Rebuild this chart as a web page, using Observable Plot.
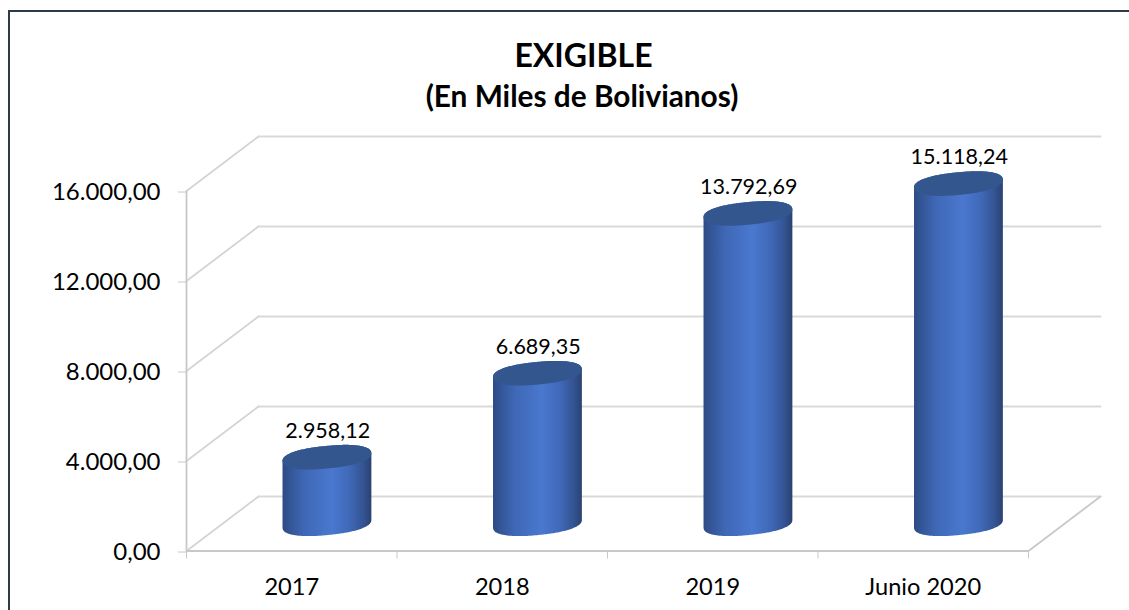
<!DOCTYPE html>
<html>
<head>
<meta charset="utf-8">
<script src="https://cdn.jsdelivr.net/npm/d3@7"></script>
<script src="https://cdn.jsdelivr.net/npm/@observablehq/plot@0.6"></script>
<style>
html,body{margin:0;padding:0;background:#fff;overflow:hidden;}
#page{position:relative;width:1129px;height:610px;overflow:hidden;font-family:Lato,sans-serif;}
#frame{position:absolute;left:8px;top:10px;width:1130px;height:610px;border-left:2.5px solid #2f3b4c;border-top:2.5px solid #2f3b4c;}
#chart{position:absolute;left:0;top:0;}
#t1,#t2{position:absolute;left:0;width:1164px;text-align:center;font-weight:700;color:#000;white-space:nowrap;}
#t1{top:36px;font-size:32px;line-height:38px;width:1167px;}
#t2{top:79px;font-size:29.8px;line-height:34px;}
</style>
</head>
<body>
<div id="page">
  <div id="frame"></div>
  <div id="chart"></div>
  <div id="t1">EXIGIBLE</div>
  <div id="t2">(En Miles de Bolivianos)</div>
</div>
<script>
const title = "EXIGIBLE";
const subtitle = "(En Miles de Bolivianos)";
const categories = ["2017", "2018", "2019", "Junio 2020"];
const values = [2958.12, 6689.35, 13792.69, 15118.24];
const yTicks = [0, 4000, 8000, 12000, 16000];

// Spanish number format: 15.118,24
const fmt = d3.formatLocale({decimal: ",", thousands: ".", grouping: [3], currency: ["", ""]}).format(",.2f");

// Pseudo-3D projection expressed in data units, so everything passes through the scales.
const depthX = 0.342;   // floor depth along x (fraction of one category)
const depthY = 2422;    // floor depth along y (value units)
const pxX = 1 / 210.5;  // data units per pixel
const pxY = 16000 / 360;
const project = (x, v, d) => ({x: x + d * depthX, y: v + d * depthY});

// Back wall and side wall grid
const backGrid = yTicks.map(v => [project(0, v, 1), project(4, v, 1)]).flat().map((p, i) => ({...p, k: Math.floor(i / 2)}));
const sideGrid = yTicks.map(v => [project(0, v, 0), project(0, v, 1)]).flat().map((p, i) => ({...p, k: Math.floor(i / 2)}));
const floorEdge = [project(4, 0, 0), project(4, 0, 1)];

// Rounded, tilted cylinder cap (pixel offsets converted to data units)
const a = 44.6, b = 11.3, th = -5.5 * Math.PI / 180, pow = 2 / 2.3;
const spow = v => Math.sign(v) * Math.pow(Math.abs(v), pow);
function capOffset(t) {
  const u = a * spow(Math.cos(t)), w = b * spow(Math.sin(t));
  return {ex: u * Math.cos(th) - w * Math.sin(th), ey: u * Math.sin(th) + w * Math.cos(th)};
}
const capPoint = (c, t) => {
  const {ex, ey} = capOffset(t);
  return {x: c.x - 0.8 * pxX + ex * pxX, y: c.y - ey * pxY};
};
const turns = d3.range(0, 241).map(i => i / 240 * 2 * Math.PI);
const tR = d3.greatest(turns, t => capOffset(t).ex);
const tL = d3.least(turns, t => capOffset(t).ex);
const lowerArc = turns.filter(t => t >= tR && t <= tL);
const upperArc = turns.filter(t => t >= tL).concat(turns.filter(t => t <= tR));

const bodies = [], tops = [], labels = [];
categories.forEach((cat, i) => {
  const base = project(i + 0.5, 0, 0.5);
  const top = project(i + 0.5, values[i], 0.5);
  lowerArc.forEach(t => bodies.push({cat, ...capPoint(base, t)}));
  upperArc.forEach(t => bodies.push({cat, ...capPoint(top, t)}));
  turns.forEach(t => tops.push({cat, ...capPoint(top, t)}));
  labels.push({...top, text: fmt(values[i])});
});

const defs = d3.create("svg:defs");
const grad = defs.append("linearGradient").attr("id", "cyl").attr("x1", 0).attr("x2", 1).attr("y1", 0).attr("y2", 0);
[[0, "#2c4a84"], [0.08, "#335596"], [0.25, "#3f68b6"], [0.55, "#4a78cf"], [0.75, "#4069b8"], [0.9, "#345595"], [1, "#2a4272"]]
  .forEach(([o, c]) => grad.append("stop").attr("offset", o).attr("stop-color", c));

const chart = Plot.plot({
  width: 1129,
  height: 610,
  marginLeft: 186,
  marginRight: 101,
  marginTop: 190.5,
  marginBottom: 59.5,
  style: {background: "transparent", fontFamily: "Lato, sans-serif", color: "#000"},
  x: {type: "linear", domain: [0, 4]},
  y: {type: "linear", domain: [0, 16000]},
  marks: [
    () => defs.node(),
    Plot.line(backGrid, {x: "x", y: "y", z: "k", stroke: "#d9d9d9", strokeWidth: 2}),
    Plot.line(sideGrid, {x: "x", y: "y", z: "k", stroke: "#d4d4d4", strokeWidth: 1.8}),
    Plot.line(floorEdge, {x: "x", y: "y", stroke: "#c8c8c8", strokeWidth: 1.8}),
    Plot.ruleX([0], {y1: 0, y2: 16000, stroke: "#c8c8c8", strokeWidth: 1.8}),
    Plot.ruleY([0], {x1: 0, x2: 4, stroke: "#c8c8c8", strokeWidth: 1.8}),
    Plot.axisY({ticks: yTicks, tickFormat: fmt, tickSize: 8, tickPadding: 18, stroke: "#c8c8c8", fontSize: 24, label: null, color: "#000", textStroke: "none", dy: 1}),
    Plot.axisX({ticks: [0, 1, 2, 3, 4], tickFormat: () => "", tickSize: 8, stroke: "#c8c8c8", label: null}),
    Plot.axisX({ticks: [0.5, 1.5, 2.5, 3.5], tickFormat: d => categories[Math.floor(d)], tickSize: 0, tickPadding: 27, fontSize: 23.6, label: null, color: "#000"}),
    Plot.line(bodies, {x: "x", y: "y", z: "cat", fill: "url(#cyl)", stroke: "none"}),
    Plot.line(tops, {x: "x", y: "y", z: "cat", fill: "#34568f", stroke: "none"}),
    Plot.text(labels, {x: "x", y: "y", text: "text", dy: -26, fontSize: 21.5, fill: "#000"})
  ]
});
document.getElementById("chart").appendChild(chart);
</script>
</body>
</html>
